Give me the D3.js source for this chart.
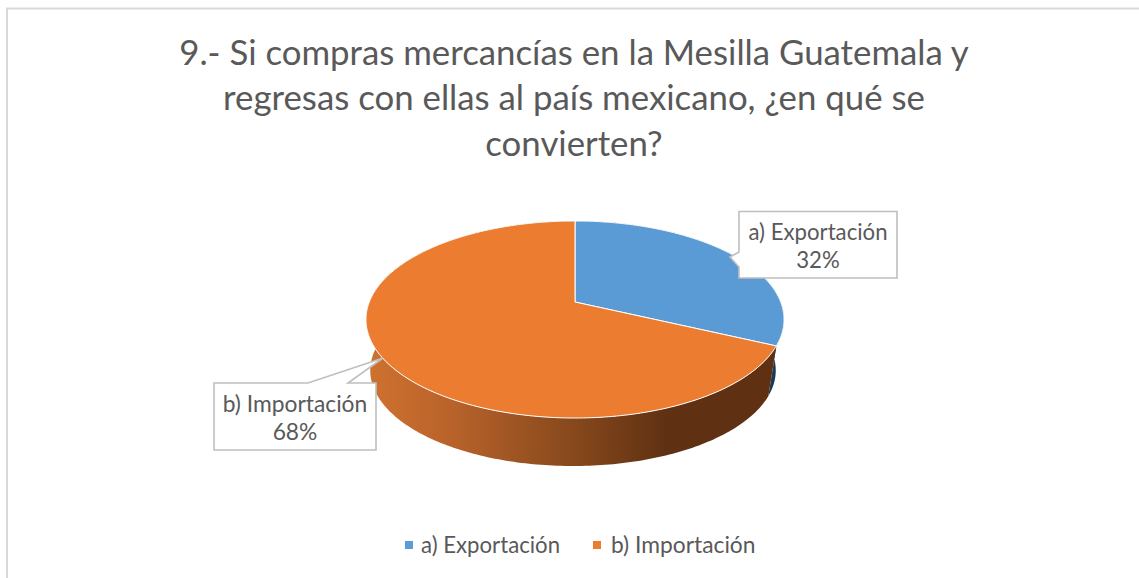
<!DOCTYPE html>
<html>
<head>
<meta charset="utf-8">
<script src="https://cdn.jsdelivr.net/npm/d3@7"></script>
<style>
  html, body { margin: 0; padding: 0; background: #fff; overflow: hidden; }
  text { font-family: Lato, "Open Sans", sans-serif; fill: #595959; }
</style>
</head>
<body>
<div id="chart"></div>
<script>
// Chart data
var categories = ["a) Exportación", "b) Importación"];
var values = [32, 68];
var percentLabels = ["32%", "68%"];
var titleLines = [
  "9.- Si compras mercancías en la Mesilla Guatemala y",
  "regresas con ellas al país mexicano, ¿en qué se",
  "convierten?"
];
var topColors = ["#5b9bd5", "#eb7c30"];

var width = 1139, height = 578;

var svg = d3.select("#chart").append("svg")
  .attr("width", width)
  .attr("height", height)
  .style("display", "block");

// Chart frame: only the left and top edges are in the picture
svg.append("path")
  .attr("d", "M7,578V8.5H1139")
  .attr("fill", "none")
  .attr("stroke", "#d9d9d9")
  .attr("stroke-width", 2);

// Title
svg.append("g").selectAll("text")
  .data(titleLines)
  .enter().append("text")
  .attr("x", 574)
  .attr("y", function (d, i) { return [65, 110, 156][i]; })
  .attr("text-anchor", "middle")
  .style("font-size", "34.8px")
  .text(function (d) { return d; });

// Perspective projection of a disc lying flat: the far side looks shorter
var persp = 0.1777;
function project(angle, scale, cx, cy) {
  var w = 1 + persp * Math.cos(angle);
  return [
    cx + scale * 205.7 * Math.sin(angle) / w,
    cy - scale * 95.4 * Math.cos(angle) / w
  ];
}

function arcPoints(a0, a1, scale, cx, cy) {
  var n = Math.ceil((a1 - a0) * 60);
  return d3.range(n + 1).map(function (i) {
    return project(a0 + (a1 - a0) * i / n, scale, cx, cy);
  });
}

var line = d3.line();
var arcs = d3.pie().sort(null)(values);

var topCx = 575, topCy = 302;
var baseScale = 0.97, baseCx = 573, baseCy = 353.5;

// Side wall gradient
var defs = svg.append("defs");
var grad = defs.append("linearGradient")
  .attr("id", "wallOrange")
  .attr("gradientUnits", "userSpaceOnUse")
  .attr("x1", 366).attr("x2", 784).attr("y1", 0).attr("y2", 0);
[[0, "#cf7230"], [0.2, "#b9632a"], [0.5, "#86481c"], [0.72, "#5f3112"], [1, "#5f3112"]].forEach(function (s) {
  grad.append("stop").attr("offset", s[0]).attr("stop-color", s[1]);
});
var wallFills = ["#1a3a58", "url(#wallOrange)"];

// Walls first, then the top slices over them
svg.append("g").selectAll("path")
  .data(arcs)
  .enter().append("path")
  .attr("d", function (d) {
    var upper = arcPoints(d.startAngle, d.endAngle, 1, topCx, topCy);
    var lower = arcPoints(d.startAngle, d.endAngle, baseScale, baseCx, baseCy).reverse();
    return line(upper.concat(lower)) + "Z";
  })
  .attr("fill", function (d, i) { return wallFills[i]; });

svg.append("g").selectAll("path")
  .data(arcs)
  .enter().append("path")
  .attr("d", function (d) {
    return line([[topCx, topCy]].concat(arcPoints(d.startAngle, d.endAngle, 1, topCx, topCy))) + "Z";
  })
  .attr("fill", function (d, i) { return topColors[i]; })
  .attr("stroke", "#fff")
  .attr("stroke-width", 1)
  .attr("stroke-linejoin", "round");

// Callout labels
var callouts = [
  { path: "M739,211.5H897V278H739V267L730,257L739,252Z", x: 818, y: [240, 268], size: 22.2 },
  { path: "M214,383H308L383,358L348,383H376V450H214Z", x: 295, y: [412, 440], size: 22.8 }
];
callouts.forEach(function (c, i) {
  svg.append("path")
    .attr("d", c.path)
    .attr("fill", "#fff")
    .attr("stroke", "#bfbfbf")
    .attr("stroke-width", 1.6);
  [categories[i], percentLabels[i]].forEach(function (t, j) {
    svg.append("text")
      .attr("x", c.x)
      .attr("y", c.y[j])
      .attr("text-anchor", "middle")
      .style("font-size", c.size + "px")
      .text(t);
  });
});

// Legend
var legendX = [405, 593];
var legendTextX = [16, 18];
var legendSize = [22.2, 22.8];
var legend = svg.append("g").selectAll("g")
  .data(categories)
  .enter().append("g")
  .attr("transform", function (d, i) { return "translate(" + legendX[i] + ",541)"; });
legend.append("rect")
  .attr("width", 8).attr("height", 8)
  .attr("fill", function (d, i) { return topColors[i]; });
legend.append("text")
  .attr("x", function (d, i) { return legendTextX[i]; })
  .attr("y", 12)
  .style("font-size", function (d, i) { return legendSize[i] + "px"; })
  .text(function (d) { return d; });
</script>
</body>
</html>
